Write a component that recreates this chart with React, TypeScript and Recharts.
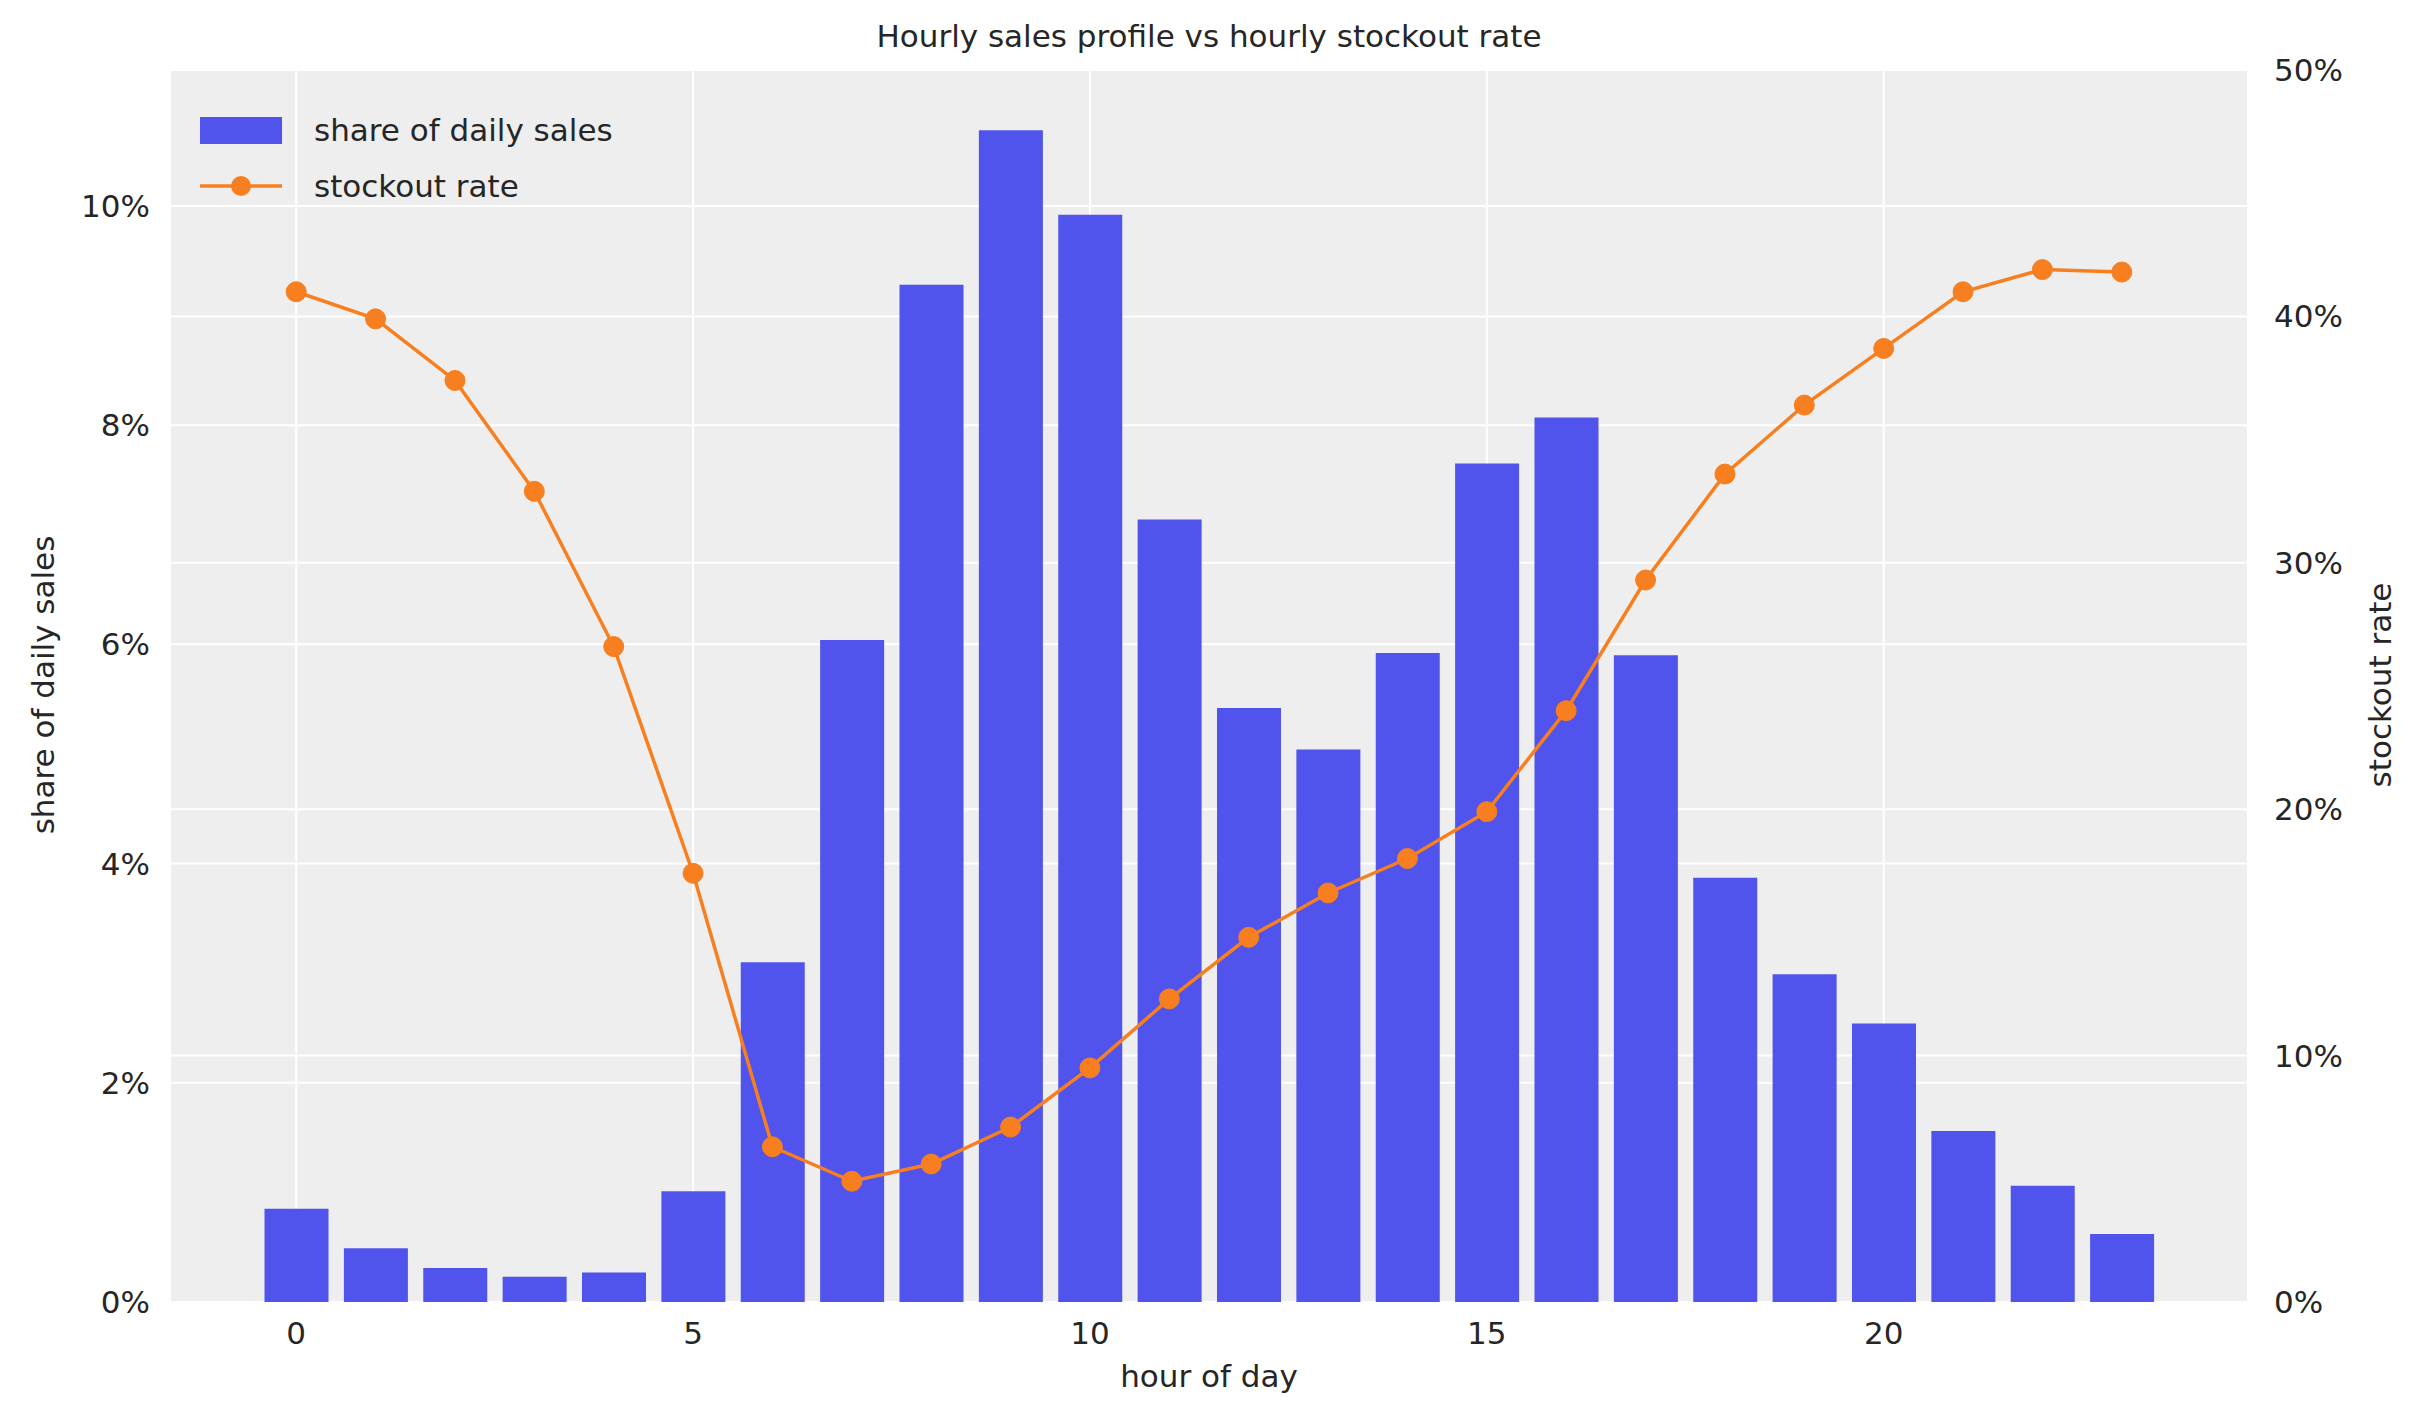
import { ComposedChart, Bar, Line, XAxis, YAxis, CartesianGrid } from 'recharts';

const hours = [0, 1, 2, 3, 4, 5, 6, 7, 8, 9, 10, 11, 12, 13, 14, 15, 16, 17, 18, 19, 20, 21, 22, 23];
const salesShare = [0.85, 0.49, 0.31, 0.23, 0.27, 1.01, 3.1, 6.04, 9.28, 10.69, 9.92, 7.14, 5.42, 5.04, 5.92, 7.65, 8.07, 5.9, 3.87, 2.99, 2.54, 1.56, 1.06, 0.62];
const stockoutRate = [41.0, 39.9, 37.4, 32.9, 26.6, 17.4, 6.3, 4.9, 5.6, 7.1, 9.5, 12.3, 14.8, 16.6, 18.0, 19.9, 24.0, 29.3, 33.6, 36.4, 38.7, 41.0, 41.9, 41.8];
const xTicks = [0, 5, 10, 15, 20];
const leftTicks = [0, 2, 4, 6, 8, 10];
const rightTicks = [0, 10, 20, 30, 40, 50];

const data = hours.map((h, i) => ({ hour: h, sales: salesShare[i], stockout: stockoutRate[i] }));

const FONT = 'DejaVu Sans, sans-serif';
const BLUE = '#5053ec';
const ORANGE = '#f77f1f';
const tickStyle = { fontSize: 31, fill: '#262626', fontFamily: FONT };

export default function App() {
  return (
    <div style={{ position: 'fixed', left: 0, top: 0, width: 2423, height: 1423, background: '#fff', fontFamily: FONT, color: '#262626' }}>
      <ComposedChart width={2423} height={1423} data={data} margin={{ top: 70, right: 0, left: 0, bottom: 0 }}>
        <CartesianGrid yAxisId="left" fill="#eeeeee" stroke="#ffffff" strokeWidth={2} verticalPoints={undefined} />
        <CartesianGrid yAxisId="right" vertical={false} stroke="#ffffff" strokeWidth={2} fill="none" />
        <XAxis
          dataKey="hour"
          type="number"
          domain={[-1.59, 24.59]}
          ticks={xTicks}
          allowDataOverflow
          axisLine={false}
          tickLine={false}
          tick={tickStyle}
          tickMargin={14}
          height={121}
        />
        <YAxis
          yAxisId="left"
          domain={[0, 11.24]}
          ticks={leftTicks}
          allowDataOverflow
          tickFormatter={(v: number) => `${v}%`}
          axisLine={false}
          tickLine={false}
          tick={tickStyle}
          tickMargin={14}
          width={170}
        />
        <YAxis
          yAxisId="right"
          orientation="right"
          domain={[0, 50]}
          ticks={rightTicks}
          tickFormatter={(v: number) => `${v}%`}
          axisLine={false}
          tickLine={false}
          tick={tickStyle}
          tickMargin={20}
          width={175}
        />
        <Bar yAxisId="left" dataKey="sales" fill={BLUE} barSize={64} isAnimationActive={false} />
        <Line
          yAxisId="right"
          dataKey="stockout"
          stroke={ORANGE}
          strokeWidth={3.5}
          dot={{ r: 10, fill: ORANGE, stroke: ORANGE, strokeWidth: 1 }}
          isAnimationActive={false}
        />
      </ComposedChart>

      <div style={{ position: 'absolute', left: 0, width: 2423, top: 18, textAlign: 'center', fontSize: 31 }}>
        <span style={{ position: 'absolute', left: 1209, transform: 'translateX(-50%)', whiteSpace: 'nowrap' }}>Hourly sales profile vs hourly stockout rate</span>
      </div>
      <div style={{ position: 'absolute', left: 1209, top: 1358, transform: 'translateX(-50%)', fontSize: 31, whiteSpace: 'nowrap' }}>hour of day</div>
      <div style={{ position: 'absolute', left: 43, top: 685, transform: 'translate(-50%, -50%) rotate(-90deg)', fontSize: 31, whiteSpace: 'nowrap' }}>share of daily sales</div>
      <div style={{ position: 'absolute', left: 2380, top: 685, transform: 'translate(-50%, -50%) rotate(-90deg)', fontSize: 31, whiteSpace: 'nowrap' }}>stockout rate</div>

      <div style={{ position: 'absolute', left: 200, top: 102, fontSize: 31 }}>
        <div style={{ display: 'flex', alignItems: 'center', height: 56 }}>
          <div style={{ width: 82, height: 27, background: BLUE }} />
          <span style={{ marginLeft: 32 }}>share of daily sales</span>
        </div>
        <div style={{ display: 'flex', alignItems: 'center', height: 56 }}>
          <svg width={82} height={24}>
            <line x1={0} y1={12} x2={82} y2={12} stroke={ORANGE} strokeWidth={3.5} />
            <circle cx={41} cy={12} r={10} fill={ORANGE} />
          </svg>
          <span style={{ marginLeft: 32 }}>stockout rate</span>
        </div>
      </div>
    </div>
  );
}
